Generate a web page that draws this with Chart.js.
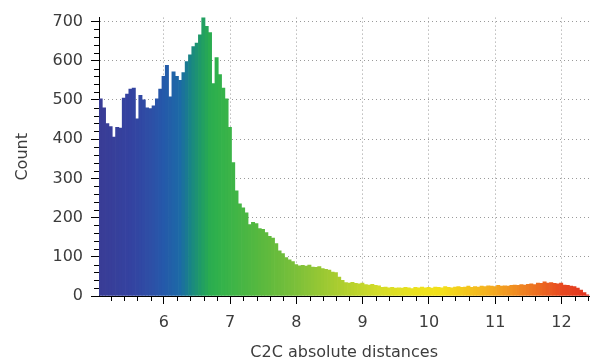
<!DOCTYPE html>
<html>
<head>
<meta charset="utf-8">
<script src="https://cdn.jsdelivr.net/npm/chart.js@4"></script>
<style>
  html, body { margin: 0; padding: 0; background: #fff; }
</style>
</head>
<body>
<canvas id="c" width="597" height="362"></canvas>
<script>
// ── data: histogram of C2C absolute distances ─────────────────────
const BIN_START = 5.02;   // left edge of first class
const BIN_WIDTH = 0.05;   // class width
const COUNTS = [
  503, 480, 440, 432, 405, 430, 428, 505, 515, 528,
  530, 452, 512, 500, 480, 478, 485, 503, 528, 560,
  588, 508, 572, 560, 550, 570, 598, 615, 636, 645,
  666, 712, 688, 672, 542, 608, 565, 530, 503, 430,
  340, 268, 235, 225, 212, 182, 188, 185, 172, 170,
  162, 152, 148, 134, 115, 108,  98,  92,  88,  80,
   77,  78,  76,  79,  74,  73,  75,  70,  68,  66,
   61,  60,  48,  40,  34,  33,  35,  32,  31,  33,
   29,  28,  30,  27,  26,  22,  23,  21,  22,  20,
   21,  20,  22,  21,  19,  22,  21,  23,  21,  22,
   20,  23,  22,  21,  24,  22,  21,  23,  24,  22,
   23,  25,  22,  24,  23,  25,  24,  26,  25,  24,
   27,  25,  26,  25,  27,  28,  27,  29,  28,  30,
   31,  29,  33,  32,  36,  33,  34,  32,  31,  33,
   28,  27,  25,  24,  20,  15,   9,   3
];
const X_TICKS = [6, 7, 8, 9, 10, 11, 12];
const Y_TICKS = [0, 100, 200, 300, 400, 500, 600, 700];
const X_MIN = 5.02, X_MAX = 12.42;
const Y_MAX = 710;

// colour ramp (value -> colour) like the scalar-field scale
const RAMP = [
  [5.0, '#3a3c95'], [5.5, '#3442a0'], [5.8, '#2e4fa6'], [6.0, '#2559aa'],
  [6.25, '#1c6aa6'], [6.4, '#198486'], [6.55, '#1f9a68'], [6.7, '#2aad4f'],
  [6.9, '#35b34a'], [7.5, '#5bb93e'], [8.0, '#7cc03a'], [8.6, '#a8cc30'],
  [9.25, '#d4dc28'], [9.9, '#eee21c'], [10.2, '#f3e01a'], [10.9, '#f4b020'],
  [11.5, '#ee7b22'], [12.0, '#e84a20'], [12.45, '#e03020']
];

const hex = h => [1, 3, 5].map(i => parseInt(h.substr(i, 2), 16));
function rampColor(v) {
  if (v <= RAMP[0][0]) return RAMP[0][1];
  for (let i = 1; i < RAMP.length; i++) {
    const [v1, c1] = RAMP[i];
    if (v <= v1) {
      const [v0, c0] = RAMP[i - 1];
      const t = (v - v0) / (v1 - v0);
      const a = hex(c0), b = hex(c1);
      return 'rgb(' + a.map((x, k) => Math.round(x + (b[k] - x) * t)).join(',') + ')';
    }
  }
  return RAMP[RAMP.length - 1][1];
}

const centers = COUNTS.map((_, i) => BIN_START + BIN_WIDTH * (i + 0.5));
const points  = COUNTS.map((y, i) => ({ x: centers[i], y }));

const FONT = { family: 'DejaVu Sans', size: 16 };
const TXT  = '#3c3c3c';
const GRID = '#9a9a9a';

// minor ticks every 0.2 on x, every 20 on y (labels only on majors)
function minorTicks(lo, hi, step) {
  const out = [];
  for (let k = Math.ceil(lo / step - 1e-9); k * step <= hi + 1e-9; k++) {
    out.push({ value: Math.round(k * step * 100) / 100 });
  }
  return out;
}

// short tick marks for the minor ticks (majors come from the grid options)
const minorMarks = {
  id: 'minorMarks',
  afterDraw(chart) {
    const { ctx, scales: { x, y } } = chart;
    ctx.save();
    ctx.strokeStyle = '#000';
    ctx.lineWidth = 1;
    ctx.beginPath();
    x.ticks.forEach(t => {
      if (X_TICKS.includes(t.value)) return;
      const px = Math.round(x.getPixelForValue(t.value)) + 0.5;
      ctx.moveTo(px, x.top); ctx.lineTo(px, x.top + 5);
    });
    y.ticks.forEach(t => {
      if (Y_TICKS.includes(t.value)) return;
      const py = Math.round(y.getPixelForValue(t.value)) + 0.5;
      ctx.moveTo(y.right - 5, py); ctx.lineTo(y.right, py);
    });
    ctx.stroke();
    ctx.restore();
  },
};

const isMajorX = c => X_TICKS.includes(c.tick && c.tick.value);
const isMajorY = c => Y_TICKS.includes(c.tick && c.tick.value);

new Chart(document.getElementById('c'), {
  type: 'bar',
  data: {
    datasets: [{
      data: points,
      backgroundColor: centers.map(rampColor),
      borderWidth: 0,
      barPercentage: 1,
      categoryPercentage: 1,
    }],
  },
  options: {
    responsive: false,
    animation: false,
    devicePixelRatio: 1,
    layout: { padding: { top: 15, right: 7, left: 0, bottom: 0 } },
    plugins: { legend: { display: false }, tooltip: { enabled: false } },
    scales: {
      x: {
        type: 'linear',
        min: X_MIN, max: X_MAX,
        offset: false,
        afterBuildTicks: s => { s.ticks = minorTicks(X_MIN, X_MAX, 0.2); },
        afterFit: s => { s.height = 66; },
        ticks: {
          autoSkip: false, maxRotation: 0, padding: 9,
          font: FONT, color: TXT,
          callback: v => X_TICKS.includes(v) ? String(v) : '',
        },
        grid: {
          offset: false,
          drawTicks: true, tickLength: 8,
          tickColor: c => isMajorX(c) ? '#000' : 'transparent',
          color: c => isMajorX(c) ? GRID : 'transparent',
        },
        border: { color: '#000', width: 1, dash: [1, 3] },
        title: {
          display: true, text: 'C2C absolute distances',
          font: FONT, color: TXT, padding: { top: 0, bottom: 0 },
        },
      },
      y: {
        min: 0, max: Y_MAX,
        afterBuildTicks: s => { s.ticks = minorTicks(0, 700, 20); },
        afterFit: s => { s.width = 99; },
        ticks: {
          autoSkip: false, padding: 8,
          font: FONT, color: TXT,
          callback: v => Y_TICKS.includes(v) ? String(v) : '',
        },
        grid: {
          drawTicks: true, tickLength: 8,
          tickColor: c => isMajorY(c) ? '#000' : 'transparent',
          color: c => (isMajorY(c) && c.tick.value > 0) ? GRID : 'transparent',
        },
        border: { color: '#000', width: 1, dash: [1, 3] },
        title: {
          display: true, text: 'Count',
          font: FONT, color: TXT, padding: { top: 13, bottom: 0 },
        },
      },
    },
  },
  plugins: [minorMarks],
});
</script>
</body>
</html>
